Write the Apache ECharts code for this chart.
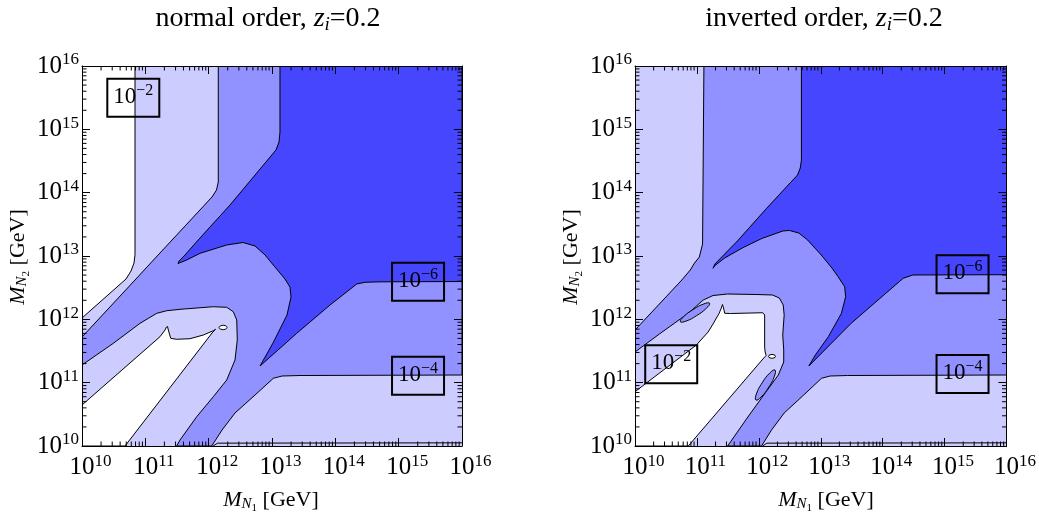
<!DOCTYPE html>
<html><head><meta charset="utf-8">
<script src="https://cdn.jsdelivr.net/npm/echarts@6/dist/echarts.min.js"></script>
<style>html,body{margin:0;padding:0;background:#fff}#c{width:1039px;height:524px}</style>
</head><body><div id="c"></div>
<script>
// ---- DATA: contour boundaries in [log10 M_N1, log10 M_N2] ----
const tickExponents = [10, 11, 12, 13, 14, 15, 16];
const plotRect = [[10, 10], [16, 10], [16, 16], [10, 16]];

// normal order panel
const noLine1 = [[10.837,16],[10.837,13.02],[10.821,12.889],[10.774,12.763],[10.695,12.637],[10,12.021]];
const noLine2 = [[12.152,16],[12.152,14.168],[12.124,14.042],[12.053,13.932],[11.026,12.826],[10.837,12.621],[10,11.721]];
const noLine3 = [[10,11.279],[10.494,11.621],[10.916,11.937],[11.180,12.095],[11.337,12.136],[11.547,12.158],[12.073,12.199],[12.285,12.190],[12.389,12.120],[12.443,11.989],[12.452,11.673],[12.416,11.358],[12.285,11.042],[12.073,10.778],[11.811,10.462],[11.547,10.094],[11.495,10]];
const noLine5 = [[12.048,10],[12.211,10.252],[12.416,10.521],[12.732,10.805],[13.021,11.069],[13.158,11.105],[13.442,11.113],[16,11.121]];
const noInner = [[10,10.647],[11.232,11.726],[11.311,11.831],[11.334,11.879],[11.350,11.887],[11.363,11.831],[11.401,11.700],[11.495,11.685],[11.705,11.694],[11.915,11.752],[12.073,11.820],[12.108,11.843],[12.053,11.784],[10.679,10],[10,10]];
const noLoop = [[12.163,11.871],[12.195,11.898],[12.258,11.901],[12.290,11.871],[12.258,11.843],[12.195,11.843]];
const noDark = [[13.126,16],[16,16],[16,12.597],[14.705,12.592],[14.469,12.585],[14.338,12.558],[13.916,12.226],[13.390,11.779],[12.811,11.263],[13.016,11.626],[13.237,12.068],[13.300,12.352],[13.284,12.510],[13.205,12.637],[13.047,12.826],[12.890,13.016],[12.732,13.158],[12.542,13.213],[12.285,13.174],[11.863,13.042],[11.653,12.937],[11.516,12.881],[11.532,12.921],[11.626,13.016],[11.863,13.284],[12.337,13.805],[13.063,14.674],[13.111,14.800],[13.126,14.958]];
const noBottomLine = [[12.07,10.0],[12.14,10.045],[16,10.05]];
const noLabelPos = [[10.810,15.497],[15.306,12.594],[15.306,11.110]];
const noLabelExp = ['\u22122','\u22126','\u22124'];

// inverted order panel
const ioLine2 = [[11.113,16],[11.091,13.189],[11.039,12.984],[10.961,12.889],[10.893,12.779],[10.756,12.621],[10,11.831]];
const ioLine3 = [[10,11.484],[10.394,11.768],[10.866,12.100],[11.102,12.305],[11.260,12.376],[11.496,12.400],[11.969,12.392],[12.220,12.384],[12.331,12.337],[12.394,12.226],[12.409,12.068],[12.386,11.752],[12.402,11.516],[12.402,11.326],[12.315,11.121],[12.126,10.868],[11.811,10.442],[11.496,10]];
const ioLine5 = [[12.043,10],[12.205,10.252],[12.409,10.521],[12.724,10.805],[13.013,11.069],[13.150,11.105],[13.433,11.113],[16,11.121]];
const ioInner = [[10,10.857],[10.178,10.990],[10.992,11.595],[11.181,11.800],[11.260,11.926],[11.359,12.095],[11.394,12.179],[11.413,12.234],[11.430,12.179],[11.449,12.095],[11.543,12.092],[12.063,12.104],[12.094,12.068],[12.094,11.563],[12.102,11.484],[12.118,11.429],[12.079,11.389],[10.861,10],[10,10]];
const ioLoop = [[12.157,11.416],[12.181,11.440],[12.244,11.440],[12.268,11.416],[12.244,11.391],[12.181,11.391]];
const ioIsland1 = [[10.732,11.962],[10.824,11.972],[10.997,12.060],[11.154,12.176],[11.205,12.253],[11.113,12.244],[10.940,12.155],[10.783,12.040]];
const ioIsland2 = [[11.953,10.726],[12.036,10.772],[12.159,10.928],[12.252,11.103],[12.260,11.200],[12.176,11.152],[12.054,10.998],[11.961,10.822]];
const ioDark = [[12.688,16],[16,16],[16,12.705],[14.488,12.700],[14.331,12.648],[13.491,11.937],[12.808,11.263],[12.913,11.437],[13.123,11.726],[13.334,12.095],[13.402,12.357],[13.386,12.515],[13.280,12.673],[13.181,12.810],[13.008,13.016],[12.787,13.253],[12.646,13.363],[12.493,13.403],[12.389,13.395],[12.047,13.276],[11.732,13.126],[11.449,12.968],[11.291,12.850],[11.260,12.806],[11.291,12.874],[11.654,13.237],[12.126,13.753],[12.625,14.279],[12.669,14.389],[12.688,14.516]];
const ioBottomLine = [[12.06,10.0],[12.13,10.045],[16,10.05]];
const ioLabelPos = [[10.585,11.291],[15.290,12.713],[15.290,11.138]];
const ioLabelExp = ['\u22122','\u22126','\u22124'];

// ---- STYLE ----
const C_WHITE = '#ffffff', C_LIGHT = '#ccccff', C_MED = '#9191ff', C_DARK = '#4646ff';
const F = 'Liberation Serif';

const noRegions = [
  {points: plotRect, fill: C_LIGHT, noStroke: true},
  {points: noLine1.concat([[10,16]]), fill: C_WHITE},
  {points: noLine2.concat(noLine3, noLine5, [[16,16]]), fill: C_MED},
  {points: noDark, fill: C_DARK},
  {points: noInner, fill: C_WHITE},
  {points: noLoop, fill: C_WHITE, smooth: 0.5},
  {points: noBottomLine, line: true}
];
const ioRegions = [
  {points: plotRect, fill: C_LIGHT, noStroke: true},
  {points: ioLine2.concat(ioLine3, ioLine5, [[16,16]]), fill: C_MED},
  {points: ioDark, fill: C_DARK},
  {points: ioInner, fill: C_WHITE},
  {points: ioLoop, fill: C_WHITE, smooth: 0.5},
  {points: ioIsland1, fill: C_MED, smooth: 0.5},
  {points: ioIsland2, fill: C_MED, smooth: 0.5},
  {points: ioBottomLine, line: true}
];

function regionSeries(ai, regions) {
  return {
    type: 'custom', xAxisIndex: ai, yAxisIndex: ai, clip: true, silent: true, z: 2,
    data: regions.map(() => [10, 10]),
    renderItem: (params, api) => {
      const r = regions[params.dataIndex];
      const pts = r.points.map(p => api.coord(p));
      if (r.line) return {type: 'polyline', shape: {points: pts}, style: {stroke: '#000', lineWidth: 1, fill: null}};
      return {type: 'polygon', shape: {points: pts, smooth: r.smooth || 0},
        style: {fill: r.fill, stroke: r.noStroke ? null : '#000', lineWidth: 1}};
    }
  };
}

const boxRich = {
  b: {fontFamily: F, fontSize: 23, color: '#000'},
  s: {fontFamily: F, fontSize: 16, color: '#000', padding: [0, 0, 12, 0]}
};
function labelSeries(ai, pos, exps) {
  return {
    type: 'custom', xAxisIndex: ai, yAxisIndex: ai, silent: true, z: 5,
    data: pos,
    renderItem: (params, api) => {
      const c = api.coord([api.value(0), api.value(1)]);
      return {type: 'group', children: [
        {type: 'rect', shape: {x: c[0] - 26, y: c[1] - 19, width: 52, height: 38},
          style: {fill: null, stroke: '#000', lineWidth: 2}},
        {type: 'text', x: c[0], y: c[1] - 1, style: {text: '{b|10}{s|' + exps[params.dataIndex] + '}',
          rich: boxRich, align: 'center', verticalAlign: 'middle', textAlign: 'center', textVerticalAlign: 'middle'}}
      ]};
    }
  };
}

function minorTickSeries(ai) {
  return {
    type: 'custom', xAxisIndex: ai, yAxisIndex: ai, silent: true, z: 10,
    data: [[10, 10]],
    renderItem: (params, api) => {
      const ch = [];
      const ln = (x1, y1, x2, y2) => ({type: 'line', shape: {x1, y1, x2, y2}, style: {stroke: '#000', lineWidth: 1}});
      for (let d = 10; d < 16; d++) for (let k = 2; k <= 9; k++) {
        const t = d + Math.log10(k);
        const b = api.coord([t, 10]), tp = api.coord([t, 16]), l = api.coord([10, t]), r = api.coord([16, t]);
        ch.push(ln(b[0], b[1], b[0], b[1] - 4.5), ln(tp[0], tp[1], tp[0], tp[1] + 4.5),
                ln(l[0], l[1], l[0] + 4.5, l[1]), ln(r[0], r[1], r[0] - 4.5, r[1]));
      }
      return {type: 'group', children: ch};
    }
  };
}

const tickRich = {
  p: {width: 17},
  b: {fontFamily: F, fontSize: 25, color: '#000'},
  s: {fontFamily: F, fontSize: 17, color: '#000', padding: [0, 0, 12, 0]}
};
function axisCommon(gi, pos, showLabel, isX) {
  return {
    type: 'value', gridIndex: gi, min: tickExponents[0], max: tickExponents[tickExponents.length - 1], interval: 1,
    position: pos, z: 10,
    axisLine: {show: true, onZero: false, lineStyle: {color: '#000', width: 1}},
    axisTick: {show: true, inside: true, length: 8, lineStyle: {color: '#000', width: 1}},
    splitLine: {show: false},
    axisLabel: showLabel ? {
      show: true, margin: isX ? 7 : 3, rich: tickRich,
      formatter: v => (isX ? '{p|}' : '') + '{b|10}{s|' + v + '}'
    } : {show: false}
  };
}

const nameRich = {
  m: {fontFamily: F, fontStyle: 'italic', fontSize: 22, color: '#000'},
  n: {fontFamily: F, fontStyle: 'italic', fontSize: 15, color: '#000', padding: [8, 0, 0, 0]},
  k: {fontFamily: F, fontSize: 11, color: '#000', padding: [16, 0, 0, 0]},
  g: {fontFamily: F, fontSize: 22, color: '#000'}
};
const titleRich = {
  t: {fontFamily: F, fontSize: 28, color: '#000'},
  z: {fontFamily: F, fontStyle: 'italic', fontSize: 28, color: '#000'},
  i: {fontFamily: F, fontStyle: 'italic', fontSize: 19, color: '#000', padding: [11, 0, 0, 0]}
};
function txt(x, y, text, rich, rot) {
  return {type: 'text', x, y, rotation: rot || 0, z: 20,
    style: {text, rich, align: 'center', verticalAlign: 'middle', textAlign: 'center', textVerticalAlign: 'middle'}};
}

const chart = echarts.init(document.getElementById('c'));
chart.setOption({
  backgroundColor: '#fff',
  animation: false,
  grid: [
    {left: 82, top: 66, width: 380, height: 380},
    {left: 635, top: 66, width: 381, height: 380}
  ],
  xAxis: [axisCommon(0, 'bottom', true, true), axisCommon(0, 'top', false, true),
          axisCommon(1, 'bottom', true, true), axisCommon(1, 'top', false, true)],
  yAxis: [axisCommon(0, 'left', true, false), axisCommon(0, 'right', false, false),
          axisCommon(1, 'left', true, false), axisCommon(1, 'right', false, false)],
  series: [
    regionSeries(0, noRegions), labelSeries(0, noLabelPos, noLabelExp), minorTickSeries(0),
    regionSeries(2, ioRegions), labelSeries(2, ioLabelPos, ioLabelExp), minorTickSeries(2)
  ],
  graphic: [
    txt(268, 19, '{t|normal order, }{z|z}{i|i}{t|=0.2}', titleRich),
    txt(824, 19, '{t|inverted order, }{z|z}{i|i}{t|=0.2}', titleRich),
    txt(271, 500, '{m|M}{n|N}{k|1}{g| [GeV]}', nameRich),
    txt(826, 500, '{m|M}{n|N}{k|1}{g| [GeV]}', nameRich),
    txt(18, 257, '{m|M}{n|N}{k|2}{g| [GeV]}', nameRich, Math.PI / 2),
    txt(571, 257, '{m|M}{n|N}{k|2}{g| [GeV]}', nameRich, Math.PI / 2)
  ]
});
</script></body></html>
